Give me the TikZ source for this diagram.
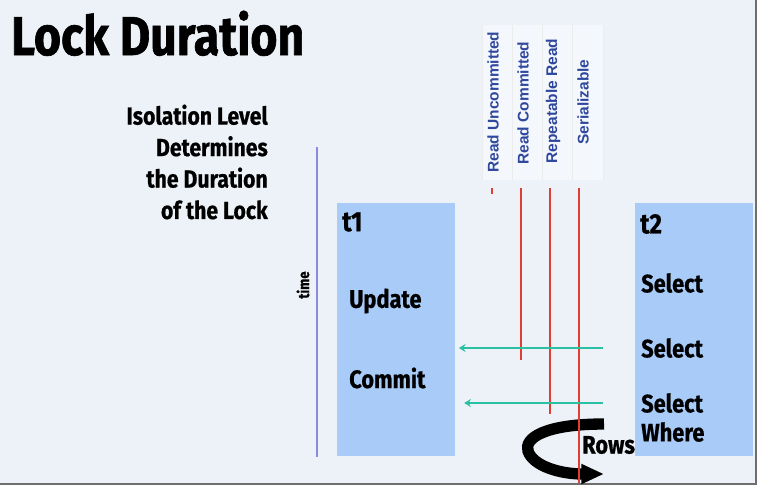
\documentclass[tikz,border=0pt]{standalone}
\usepackage{fontspec}
\usepackage{xcolor}
\usetikzlibrary{arrows.meta}
\newfontfamily\titlefont[FakeStretch=0.85,FakeBold=1.2]{Fira Sans}
\newfontfamily\bodyfont[FakeStretch=0.86,FakeBold=0.6]{Fira Sans}
\newfontfamily\levelfont{Liberation Sans}
\definecolor{bgcol}{RGB}{236,242,248}
\definecolor{boxblue}{RGB}{168,203,248}
\definecolor{levelblue}{RGB}{47,72,158}
\definecolor{lockred}{RGB}{222,62,52}
\definecolor{readteal}{RGB}{42,192,162}
\definecolor{timeline}{RGB}{138,138,222}
\definecolor{framegray}{RGB}{110,110,110}

\begin{document}
\begin{tikzpicture}[x=0.75pt,y=0.75pt,yscale=-1,xscale=1,
  txbox/.style={fill=boxblue, inner sep=0, anchor=north west, minimum width=88.5pt, minimum height=189.5pt},
  lbl/.style={anchor=west, inner sep=0, font=\bodyfont\bfseries\fontsize{19}{23}\selectfont},
  lvl/.style={rotate=90, inner sep=0, text=levelblue, font=\levelfont\bfseries\fontsize{11.6}{13}\selectfont},
  lockline/.style={lockred, line width=1.5pt},
  readarrow/.style={readteal, line width=1.8pt, -{Stealth[length=5pt,width=6pt]}},
  ribbon/.style={line width=8.5pt, -{Triangle[length=17pt,width=14pt]}}]
\useasboundingbox (0,0) rectangle (761,490);
% Background
\fill[bgcol] (0,0) rectangle (756,484);
\draw[framegray, line width=1.5pt] (756,0) -- (756,484) -- (0,484);

% Title
\draw (11,55) node [anchor=base west, inner sep=0, font=\titlefont\bfseries\fontsize{41}{41}\selectfont] (title) {Lock Duration};
% Text Node
\draw (268,162) node [anchor=east, inner sep=0, align=right, font=\bodyfont\bfseries\fontsize{18.5}{23.6}\selectfont] (iso) {Isolation Level\\Determines\\the Duration\\of the Lock};

% Time axis
\coordinate (ttop) at (317,147);
\coordinate (tbot) at (317,457);
\draw[timeline, line width=1pt] (ttop) -- (tbot);
\draw (303,285) node [rotate=90, inner sep=0, font=\bodyfont\bfseries\fontsize{11.5}{13}\selectfont] (time) {time};

% Transactions
\node[txbox] (t1) at (337,203) {};
\node[txbox] (t2) at (635,203) {};
\draw (342,222) node [lbl, font=\bodyfont\bfseries\fontsize{21}{25}\selectfont] (t1name) {t1};
\draw (349,301) node [lbl] (upd) {Update};
\draw (349,378) node [lbl] (com) {Commit};
\draw (640,224) node [lbl, font=\bodyfont\bfseries\fontsize{21}{25}\selectfont] (t2name) {t2};
\draw (641,283) node [lbl] (sel1) {Select};
\draw (641,348) node [lbl] (sel2) {Select};
\draw (641,403) node [lbl] (sel3) {Select};
\draw (641,432) node [lbl] (whr) {Where};

% Isolation levels
\fill[white, opacity=0.45] (482,25) rectangle (603,180);
\foreach \sx in {482,512,542,572,603}
  \draw[white!85!gray, line width=0.4pt] (\sx,25) -- (\sx,180);
\draw (493,102) node [lvl] (ru) {Read Uncommitted};
\draw (523,103) node [lvl] (rc) {Read Committed};
\draw (553,101) node [lvl] (rr) {Repeatable Read};
\draw (583,102) node [lvl] (sr) {Serializable};

% Rows ribbon
\coordinate (rowtop) at (604,424);
\coordinate (rowend) at (604,474);
\draw[ribbon] (rowtop) .. controls (545,424) and (524,438) .. (528,451) .. controls (533,466) and (560,474) .. (rowend);

% Lock durations
\coordinate (ruA) at (492,188);
\coordinate (ruB) at (492,194);
\coordinate (rcA) at (521,188);
\coordinate (rcB) at (521,360);
\coordinate (rrA) at (550,188);
\coordinate (rrB) at (550,414);
\coordinate (srA) at (579,188);
\coordinate (srB) at (579,483);
\draw[lockline] (ruA) -- (ruB);
\draw[lockline] (rcA) -- (rcB);
\draw[lockline] (rrA) -- (rrB);
\draw[lockline] (srA) -- (srB);

\draw (582,445) node [lbl] (rows) {Rows};

% Reads
\coordinate (rd1) at (603,348);
\coordinate (rd2) at (603,403);
\draw[readarrow, shorten >=2.5pt] (rd1) -- (rd1 -| t1.east);
\draw[readarrow, shorten >=6.5pt] (rd2) -- (rd2 -| t1.east);

\end{tikzpicture}
\end{document}
